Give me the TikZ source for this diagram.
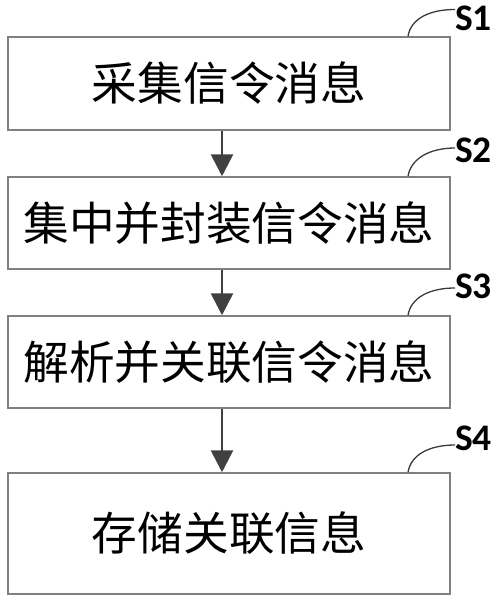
\documentclass[tikz,border=0pt]{standalone}
\usepackage{fontspec}
\newfontfamily\cjk{Noto Sans CJK SC}
\newfontfamily\labfont{Carlito}
\usetikzlibrary{arrows.meta}
\definecolor{boxgray}{HTML}{808080}
\definecolor{arrowgray}{HTML}{404040}
\definecolor{curvegray}{HTML}{3A3A3A}
\tikzset{
  stepbox/.style={draw=boxgray, line width=1.5pt, fill=white, minimum width=442pt, inner sep=0pt, font=\cjk\fontsize{45.7}{50}\selectfont},
  flowarrow/.style={draw=arrowgray, line width=2.7pt, -{Triangle[length=22pt,width=22pt]}},
  leadcurve/.style={draw=curvegray, line width=1.3pt},
  steplabel/.style={anchor=west, inner sep=0pt, font=\labfont\bfseries\fontsize{37.5}{42}\selectfont}
}
\begin{document}
\begin{tikzpicture}[x=1pt,y=-1pt]
\useasboundingbox (0,0) rectangle (500,600);
\node[stepbox, minimum height=93pt] (b1) at (229,83.5) {采集信令消息};
\node[stepbox, minimum height=92pt] (b2) at (229,223) {集中并封装信令消息};
\node[stepbox, minimum height=92pt] (b3) at (229,362) {解析并关联信令消息};
\node[stepbox, minimum height=121pt] (b4) at (229,533.5) {存储关联信息};
\coordinate (ax) at (222,0);
\draw[flowarrow] (b1.south -| ax) -- (b2.north -| ax);
\draw[flowarrow] (b2.south -| ax) -- (b3.north -| ax);
\draw[flowarrow] (b3.south -| ax) -- (b4.north -| ax);
% labels
\node[steplabel] (s1) at (455,18.5) {S1};
\node[steplabel] (s2) at (455,150) {S2};
\node[steplabel] (s3) at (455,286.5) {S3};
\node[steplabel] (s4) at (455,438.5) {S4};
\coordinate (c1) at (455,9.5);
\coordinate (c2) at (455,148);
\coordinate (c3) at (455,288);
\coordinate (c4) at (455,445);
\coordinate (t) at (408,0);
\draw[leadcurve] (b1.north -| t) .. controls +(3,-18) and +(-25,0) .. (c1);
\draw[leadcurve] (b2.north -| t) .. controls +(3,-18) and +(-25,0) .. (c2);
\draw[leadcurve] (b3.north -| t) .. controls +(3,-18) and +(-25,0) .. (c3);
\draw[leadcurve] (b4.north -| t) .. controls +(3,-18) and +(-25,0) .. (c4);
\end{tikzpicture}
\end{document}
